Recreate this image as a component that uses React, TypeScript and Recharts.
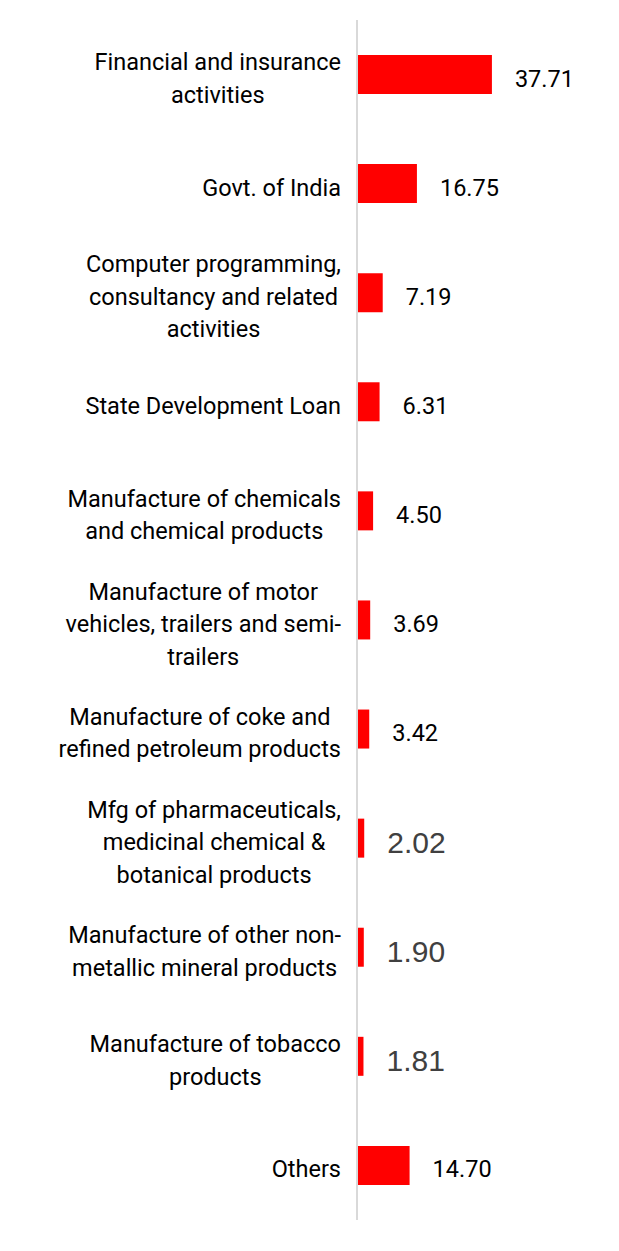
import React from "react";
import { BarChart, Bar, XAxis, YAxis, LabelList } from "recharts";

const categories: string[] = [
  "Financial and insurance\nactivities",
  "Govt. of India",
  "Computer programming,\nconsultancy and related\nactivities",
  "State Development Loan",
  "Manufacture of chemicals\nand chemical products",
  "Manufacture of motor\nvehicles, trailers and semi-\ntrailers",
  "Manufacture of coke and\nrefined petroleum products",
  "Mfg of pharmaceuticals,\nmedicinal chemical &\nbotanical products",
  "Manufacture of other non-\nmetallic mineral products",
  "Manufacture of tobacco\nproducts",
  "Others",
];
const values: number[] = [37.71, 16.75, 7.19, 6.31, 4.5, 3.69, 3.42, 2.02, 1.9, 1.81, 14.7];
const valueLabels: string[] = ["37.71", "16.75", "7.19", "6.31", "4.50", "3.69", "3.42", "2.02", "1.90", "1.81", "14.70"];

// style: which value labels use the lighter, larger grey style
const MUTED_LABEL_INDEXES = new Set<number>([7, 8, 9]);

const LABEL_FONT = "Roboto, 'Noto Sans', sans-serif";
const LABEL_SIZE = 23.5;
const LABEL_WEIGHT = 400;
const LINE_H = 32.5;

let ctx: CanvasRenderingContext2D | null = null;
function measure(text: string): number {
  if (!ctx) {
    const c = document.createElement("canvas");
    ctx = c.getContext("2d");
  }
  if (!ctx) return text.length * LABEL_SIZE * 0.5;
  ctx.font = `${LABEL_WEIGHT} ${LABEL_SIZE}px Roboto`;
  return ctx.measureText(text).width;
}

const data = categories.map((c, i) => ({ name: c, value: values[i], label: valueLabels[i] }));

const CategoryTick = (props: any) => {
  const { x, y, payload } = props;
  const lines: string[] = String(payload.value).split("\n");
  const maxW = Math.max(...lines.map(measure));
  const right = x - 8;
  const cx = right - maxW / 2;
  const startY = y - ((lines.length - 1) * LINE_H) / 2 + 4;
  return (
    <g>
      {lines.map((ln, i) => (
        <text
          key={i}
          x={cx}
          y={startY + i * LINE_H}
          textAnchor="middle"
          dominantBaseline="central"
          fontFamily={LABEL_FONT}
          fontSize={LABEL_SIZE}
          fontWeight={LABEL_WEIGHT}
          fill="#000"
        >
          {ln}
        </text>
      ))}
    </g>
  );
};

const ValueLabel = (props: any) => {
  const { x, y, width, height, index, value } = props;
  const muted = MUTED_LABEL_INDEXES.has(index);
  return (
    <text
      x={x + width + 23}
      y={y + height / 2 + 4}
      textAnchor="start"
      dominantBaseline="central"
      fontFamily={muted ? "'Liberation Sans', Arial, sans-serif" : LABEL_FONT}
      fontSize={muted ? 30 : LABEL_SIZE}
      fontWeight={400}
      fill={muted ? "#404040" : "#000"}
    >
      {value}
    </text>
  );
};

export default function App() {
  return (
    <BarChart
      width={611}
      height={1240}
      data={data}
      layout="vertical"
      margin={{ top: 12, right: 101, bottom: 28, left: 0 }}
    >
      <XAxis type="number" domain={[0, 45]} hide />
      <YAxis
        type="category"
        dataKey="name"
        width={349}
        tickLine={false}
        axisLine={{ stroke: "#d9d9d9", strokeWidth: 2 }}
        tick={<CategoryTick />}
        interval={0}
      />
      <Bar dataKey="value" fill="#ff0000" barSize={39} isAnimationActive={false}>
        <LabelList dataKey="label" content={<ValueLabel />} />
      </Bar>
    </BarChart>
  );
}
